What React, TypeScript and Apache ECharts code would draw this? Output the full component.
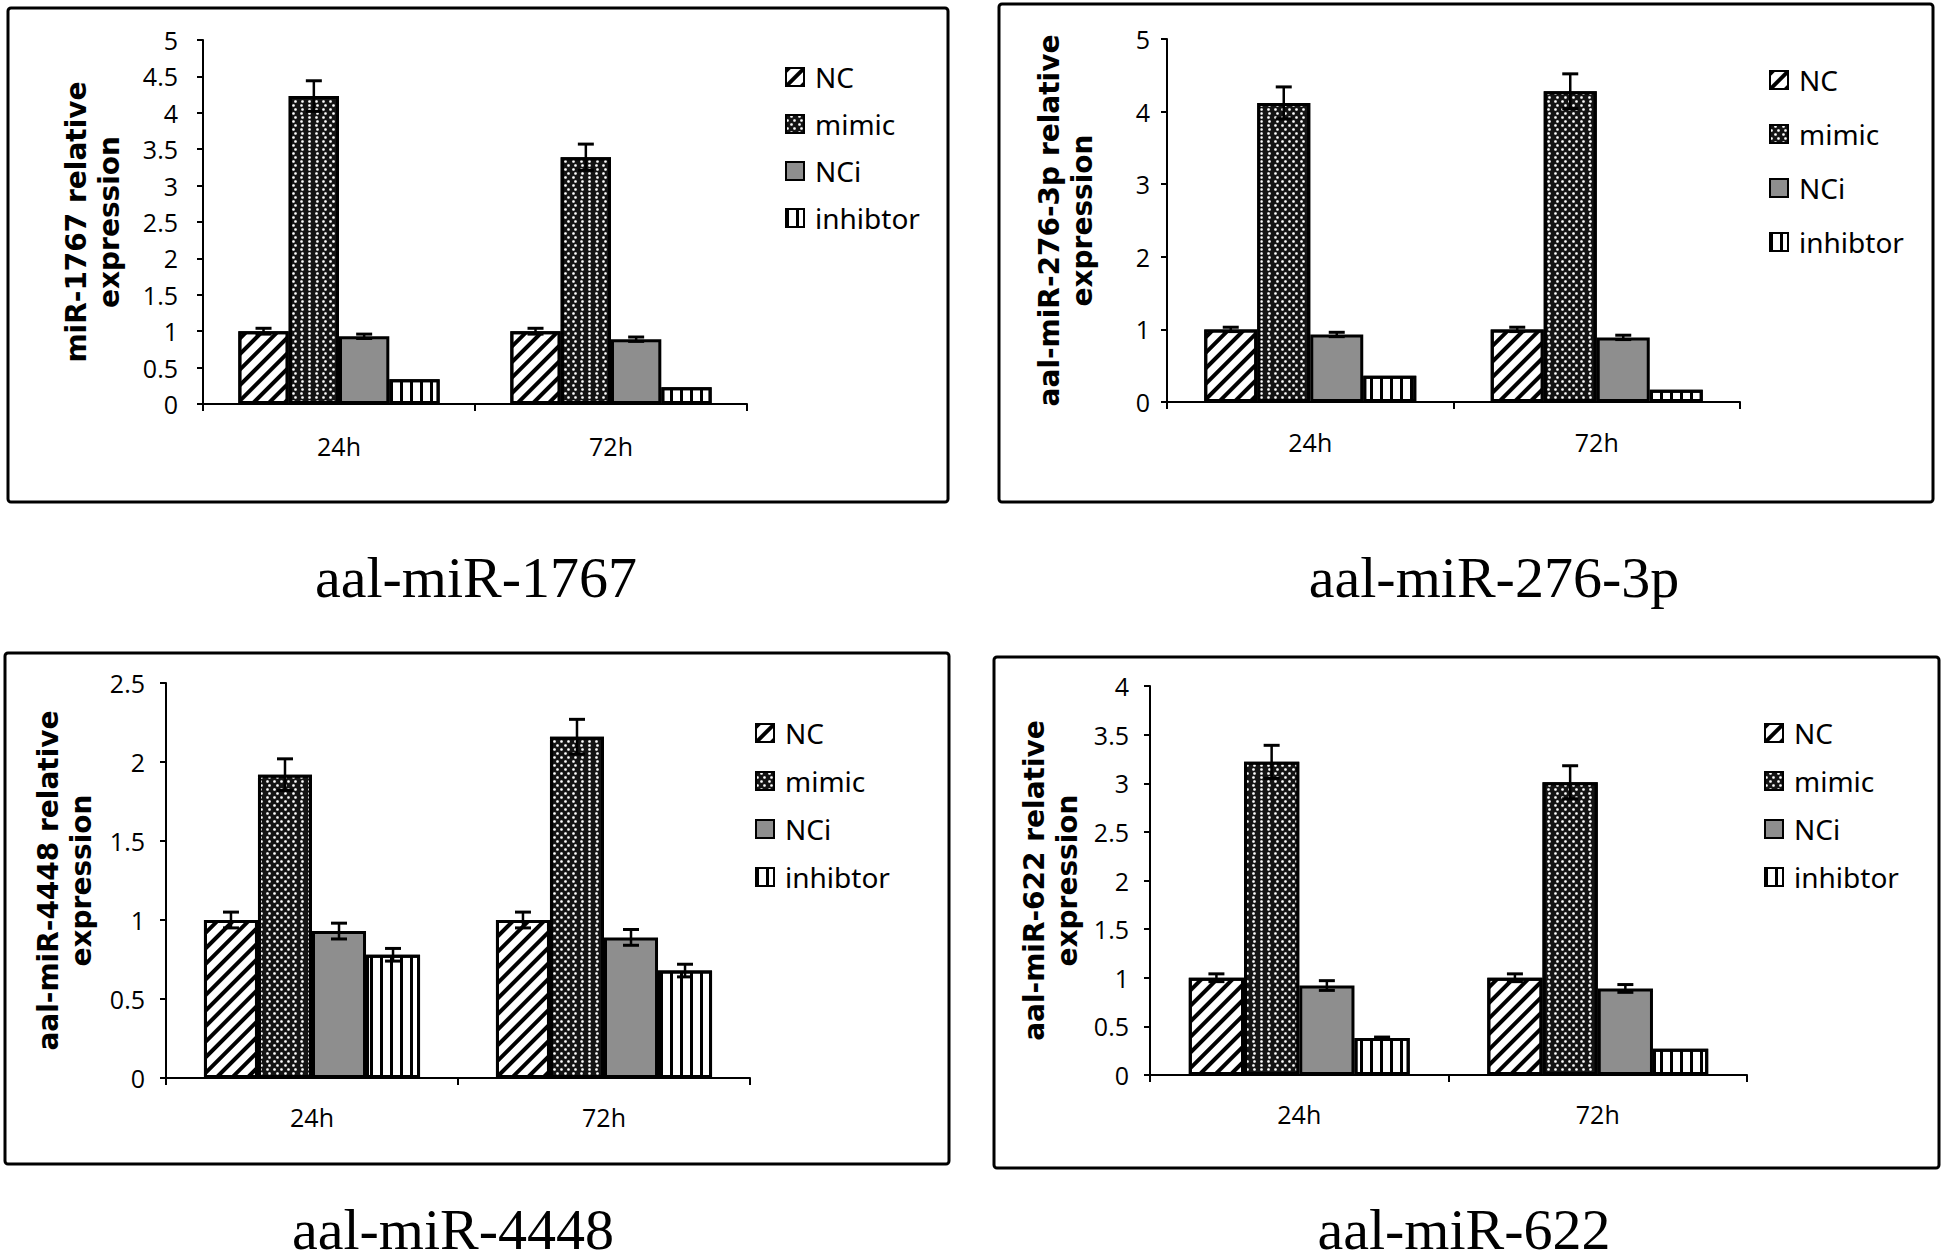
import React, { useEffect, useRef } from 'react';
import * as echarts from 'echarts';

const categories = ['24h', '72h'];
const seriesNames = ['NC', 'mimic', 'NCi', 'inhibtor'];

// Panel 1: aal-miR-1767
const p1NC = [1.0, 1.0];
const p1NCErr = [0.04, 0.04];
const p1Mimic = [4.23, 3.39];
const p1MimicErr = [0.21, 0.18];
const p1NCi = [0.93, 0.89];
const p1NCiErr = [0.03, 0.03];
const p1Inh = [0.34, 0.23];
const p1InhErr = [0, 0];

// Panel 2: aal-miR-276-3p
const p2NC = [1.0, 1.0];
const p2NCErr = [0.03, 0.03];
const p2Mimic = [4.12, 4.28];
const p2MimicErr = [0.22, 0.24];
const p2NCi = [0.93, 0.89];
const p2NCiErr = [0.03, 0.03];
const p2Inh = [0.36, 0.17];
const p2InhErr = [0, 0];

// Panel 3: aal-miR-4448
const p3NC = [1.0, 1.0];
const p3NCErr = [0.05, 0.05];
const p3Mimic = [1.92, 2.16];
const p3MimicErr = [0.1, 0.11];
const p3NCi = [0.93, 0.89];
const p3NCiErr = [0.05, 0.05];
const p3Inh = [0.78, 0.68];
const p3InhErr = [0.04, 0.04];

// Panel 4: aal-miR-622
const p4NC = [1.0, 1.0];
const p4NCErr = [0.04, 0.04];
const p4Mimic = [3.22, 3.01];
const p4MimicErr = [0.17, 0.17];
const p4NCi = [0.92, 0.89];
const p4NCiErr = [0.05, 0.04];
const p4Inh = [0.38, 0.27];
const p4InhErr = [0.01, 0];

const panelTitles = ['aal-miR-1767', 'aal-miR-276-3p', 'aal-miR-4448', 'aal-miR-622'];
const yAxisTitles = [
  'miR-1767 relative\nexpression',
  'aal-miR-276-3p relative\nexpression',
  'aal-miR-4448 relative\nexpression',
  'aal-miR-622 relative\nexpression',
];
const yMax = [5, 5, 2.5, 4];
const yInterval = [0.5, 1, 0.5, 0.5];

const panels = [
  { vals: [p1NC, p1Mimic, p1NCi, p1Inh], errs: [p1NCErr, p1MimicErr, p1NCiErr, p1InhErr] },
  { vals: [p2NC, p2Mimic, p2NCi, p2Inh], errs: [p2NCErr, p2MimicErr, p2NCiErr, p2InhErr] },
  { vals: [p3NC, p3Mimic, p3NCi, p3Inh], errs: [p3NCErr, p3MimicErr, p3NCiErr, p3InhErr] },
  { vals: [p4NC, p4Mimic, p4NCi, p4Inh], errs: [p4NCErr, p4MimicErr, p4NCiErr, p4InhErr] },
];

// layout
const grids = [
  { left: 203, top: 40, width: 544, height: 364 },
  { left: 1167, top: 39, width: 573, height: 363 },
  { left: 166, top: 683, width: 584, height: 395 },
  { left: 1150, top: 686, width: 597, height: 389 },
];
const boxes = [
  { x: 8, y: 8, width: 940, height: 494 },
  { x: 999, y: 4, width: 934, height: 498 },
  { x: 5, y: 653, width: 944, height: 511 },
  { x: 994, y: 657, width: 945, height: 511 },
];
const titlePos = [
  { x: 476, y: 577 },
  { x: 1494, y: 577 },
  { x: 453, y: 1229 },
  { x: 1464, y: 1229 },
];
const legendPos = [
  { left: 780, top: 58, gap: 19 },
  { left: 1764, top: 61, gap: 26 },
  { left: 750, top: 714, gap: 20 },
  { left: 1759, top: 714, gap: 20 },
];
const nameGaps = [77, 68, 68, 66];
const labelMarginsY = [25, 17, 21, 21];
const labelMarginsX = [29, 27, 26, 26];

const GAP = 0.26;

const decals: any[] = [
  {
    symbol: 'rect', symbolSize: 1, symbolKeepAspect: false, color: '#000',
    dashArrayX: [1, 0], dashArrayY: [4, 7], rotation: -Math.PI / 4,
  },
  {
    symbol: 'circle', symbolSize: 0.9, symbolKeepAspect: true, color: '#fff',
    dashArrayX: [[3, 3.5], [0, 3.25, 3, 0.25]], dashArrayY: [3, 0.5],
  },
  null,
  {
    symbol: 'rect', symbolSize: 1, symbolKeepAspect: false, color: '#000',
    dashArrayX: [3, 7], dashArrayY: [10, 0],
  },
];
const fills = ['#ffffff', '#141414', '#8e8e8e', '#ffffff'];

function buildOption() {
  const series: any[] = [];
  panels.forEach((p, pi) => {
    p.vals.forEach((v, si) => {
      const itemStyle: any = { color: fills[si], borderColor: '#000', borderWidth: 3 };
      if (decals[si]) itemStyle.decal = decals[si];
      series.push({
        type: 'bar', name: seriesNames[si], xAxisIndex: pi, yAxisIndex: pi,
        data: v, barGap: '0%', barCategoryGap: GAP * 100 + '%', itemStyle,
        emphasis: { disabled: true },
      });
    });
    const errData: number[][] = [];
    p.vals.forEach((v, si) => {
      v.forEach((val, ci) => {
        errData.push([ci, si, val, p.errs[si][ci]]);
      });
    });
    series.push({
      type: 'custom', name: 'err' + pi, xAxisIndex: pi, yAxisIndex: pi, z: 5,
      encode: { x: 0, y: 2 },
      data: errData,
      renderItem: (params: any, api: any) => {
        const ci = api.value(0);
        const si = api.value(1);
        const val = api.value(2);
        const err = api.value(3);
        if (!err) return { type: 'group', children: [] };
        const c = api.coord([ci, val]);
        const band = api.size([1, 0])[0];
        const bw = (band * (1 - GAP)) / 4;
        const x = c[0] + (si - 1.5) * bw;
        const top = api.coord([ci, val + err])[1];
        const bot = api.coord([ci, val - err])[1];
        const cap = 8;
        const st = { stroke: '#000', lineWidth: 3 };
        return {
          type: 'group',
          children: [
            { type: 'line', shape: { x1: x, y1: top, x2: x, y2: bot }, style: { stroke: '#000', lineWidth: 2.5 } },
            { type: 'line', shape: { x1: x - cap, y1: top, x2: x + cap, y2: top }, style: st },
            { type: 'line', shape: { x1: x - cap, y1: bot, x2: x + cap, y2: bot }, style: st },
          ],
        };
      },
    });
  });

  const graphic: any[] = [];
  boxes.forEach((b) => {
    graphic.push({
      type: 'rect', shape: { x: b.x, y: b.y, width: b.width, height: b.height, r: 3 },
      style: { fill: 'none', stroke: '#000', lineWidth: 3 }, silent: true,
    });
  });
  titlePos.forEach((t, i) => {
    graphic.push({
      type: 'text', x: t.x, y: t.y,
      style: {
        text: panelTitles[i], fontFamily: '"Liberation Serif", "Times New Roman", serif',
        fontSize: 58, fill: '#000', align: 'center', verticalAlign: 'middle',
      },
    });
  });

  return {
    animation: false,
    backgroundColor: '#fff',
    grid: grids.map((g) => ({ ...g, containLabel: false })),
    xAxis: grids.map((_, i) => ({
      type: 'category', gridIndex: i, data: categories,
      axisLine: { show: true, lineStyle: { color: '#000', width: 2 } },
      axisTick: { show: true, length: 7, lineStyle: { color: '#000', width: 2 } },
      axisLabel: { color: '#000', fontFamily: '"Open Sans", sans-serif', fontSize: 25, margin: labelMarginsX[i] },
      splitLine: { show: false },
    })),
    yAxis: grids.map((_, i) => ({
      type: 'value', gridIndex: i, min: 0, max: yMax[i], interval: yInterval[i],
      name: yAxisTitles[i], nameLocation: 'middle', nameRotate: 90, nameGap: nameGaps[i],
      nameTextStyle: {
        fontFamily: '"DejaVu Sans", Verdana, sans-serif', fontWeight: 'bold', fontSize: 28,
        lineHeight: 33, color: '#000', align: 'center',
      },
      axisLine: { show: true, lineStyle: { color: '#000', width: 2 } },
      axisTick: { show: true, length: 6, lineStyle: { color: '#000', width: 2 } },
      axisLabel: { color: '#000', fontFamily: '"Open Sans", sans-serif', fontSize: 25, margin: labelMarginsY[i] },
      splitLine: { show: false },
    })),
    legend: legendPos.map((l) => ({
      orient: 'vertical', left: l.left, top: l.top, itemGap: l.gap,
      itemWidth: 18, itemHeight: 18, icon: 'rect', selectedMode: false,
      data: seriesNames,
      textStyle: { fontFamily: '"Noto Sans", sans-serif', fontSize: 28, color: '#000', padding: [0, 0, 0, 6] },
    })),
    series,
    graphic,
  };
}

export default function App() {
  const ref = useRef<HTMLDivElement>(null);
  useEffect(() => {
    if (!ref.current) return;
    const chart = echarts.init(ref.current, undefined, { renderer: 'svg' });
    chart.setOption(buildOption() as any);
    return () => chart.dispose();
  }, []);
  return (
    <div
      ref={ref}
      style={{ position: 'fixed', left: 0, top: 0, width: 1946, height: 1260, background: '#fff' }}
    />
  );
}
